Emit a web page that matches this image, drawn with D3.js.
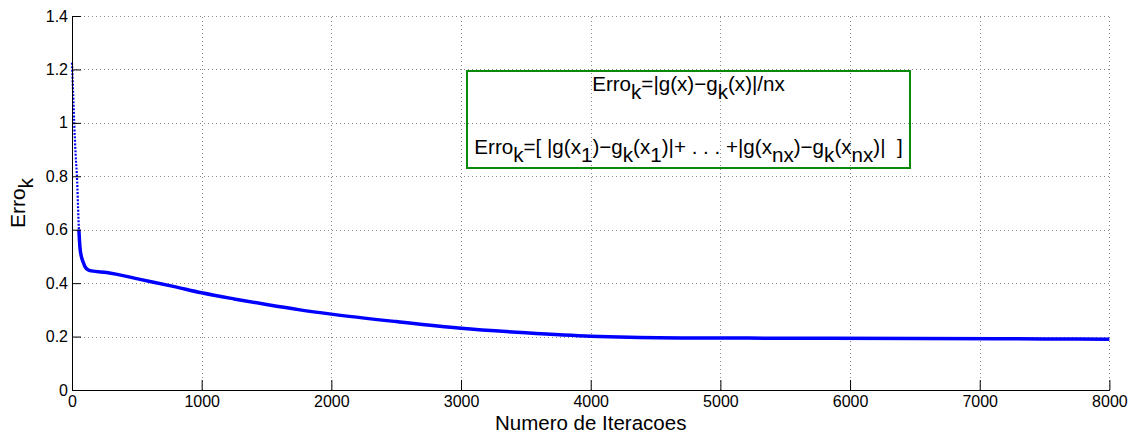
<!DOCTYPE html>
<html>
<head>
<meta charset="utf-8">
<script src="https://cdn.jsdelivr.net/npm/d3@7"></script>
<style>
  html, body { margin: 0; padding: 0; background: #fff; }
  svg { display: block; }
  text { font-family: "Liberation Sans", Arial, Helvetica, sans-serif; }
</style>
</head>
<body>
<svg id="chart" width="1135" height="434"></svg>
<script>
// ---- data ----
const iterations = [0, 8, 17, 28, 40, 47, 53, 62, 72, 85, 100, 126, 150, 267, 524, 781, 1000, 1250, 1500, 1758, 2000, 2500, 3000, 3500, 4000, 4300, 4700, 5500, 6500, 7500, 8000];
const erro       = [1.225, 1.12, 1.0, 0.88, 0.78, 0.68, 0.6, 0.53, 0.5, 0.48, 0.462, 0.449, 0.446, 0.440, 0.414, 0.388, 0.364, 0.341, 0.320, 0.300, 0.284, 0.256, 0.231, 0.214, 0.201, 0.197, 0.195, 0.194, 0.193, 0.191, 0.19];
const steepEnd = 53; // iterations where the sparse (dotted) part ends

const xTicks = [0, 1000, 2000, 3000, 4000, 5000, 6000, 7000, 8000];
const xTickLabels = ["0", "1000", "2000", "3000", "4000", "5000", "6000", "7000", "8000"];
const yTicks = [0, 0.2, 0.4, 0.6, 0.8, 1.0, 1.2, 1.4];
const yTickLabels = ["0", "0.2", "0.4", "0.6", "0.8", "1", "1.2", "1.4"];

const xLabel = "Numero de Iteracoes";
const yLabel = [["Erro", false], ["k", true]];
const formula1 = [["Erro", false], ["k", true], ["=|g(x)\u2212g", false], ["k", true], ["(x)|/nx", false]];
const formula2 = [["Erro", false], ["k", true], ["=[ |g(x", false], ["1", true], [")\u2212g", false], ["k", true], ["(x", false], ["1", true],
                  [")|+ . . . +|g(x", false], ["nx", true], [")\u2212g", false], ["k", true], ["(x", false], ["nx", true], [")|  ]", false]];

// ---- layout ----
const W = 1135, H = 434;
const margin = { left: 72, right: 25.6, top: 16, bottom: 44 };
const svg = d3.select("#chart");
svg.append("rect").attr("width", W).attr("height", H).attr("fill", "#fff");

const x = d3.scaleLinear().domain([0, 8000]).range([margin.left, W - margin.right]);
const y = d3.scaleLinear().domain([0, 1.4]).range([H - margin.bottom, margin.top]);

// grid
const grid = svg.append("g").attr("stroke", "#8a8a8a").attr("stroke-width", 1).attr("stroke-dasharray", "1,3");
grid.selectAll("line.v").data(xTicks).join("line")
  .attr("x1", d => Math.round(x(d)) + 0.5).attr("x2", d => Math.round(x(d)) + 0.5)
  .attr("y1", y(0)).attr("y2", y(1.4));
grid.selectAll("line.h").data(yTicks).join("line")
  .attr("y1", d => Math.round(y(d)) + 0.5).attr("y2", d => Math.round(y(d)) + 0.5)
  .attr("x1", x(0)).attr("x2", x(8000));

// formula box
const boxG = svg.append("g");
boxG.append("rect").attr("x", 467).attr("y", 71).attr("width", 443).attr("height", 97)
  .attr("fill", "none").attr("stroke", "#0a8a0a").attr("stroke-width", 2);

function richText(g, segs, attrs) {
  const t = g.append("text").style("white-space", "pre");
  Object.entries(attrs).forEach(([k, v]) => t.attr(k, v));
  let prevSub = false;
  segs.forEach(([s, sub]) => {
    const dy = sub === prevSub ? 0 : (sub ? 8 : -8);
    t.append("tspan").attr("dy", dy).text(s);
    prevSub = sub;
  });
  return t;
}
richText(boxG, formula1, { x: 688.5, y: 91, "text-anchor": "middle", "font-size": 20.6, fill: "#000" });
richText(boxG, formula2, { x: 688.5, y: 154, "text-anchor": "middle", "font-size": 20.6, fill: "#000" });

// curve
const pts = iterations.map((it, i) => [it, erro[i]]);
const line = d3.line().curve(d3.curveMonotoneX).x(d => x(d[0])).y(d => y(d[1]));
svg.append("path").datum(pts.filter(d => d[0] <= steepEnd))
  .attr("d", line).attr("fill", "none").attr("stroke", "#0000ff")
  .attr("stroke-width", 2.2).attr("stroke-dasharray", "2,1.5");
svg.append("path").datum(pts.filter(d => d[0] >= steepEnd))
  .attr("d", line).attr("fill", "none").attr("stroke", "#0000ff")
  .attr("stroke-width", 3.5).attr("stroke-linejoin", "round");

// axes
const xAxis = d3.axisBottom(x).tickValues(xTicks).tickFormat((d, i) => xTickLabels[i])
  .tickSizeInner(-10).tickSizeOuter(0).tickPadding(6);
const yAxis = d3.axisLeft(y).tickValues(yTicks).tickFormat((d, i) => yTickLabels[i])
  .tickSizeInner(-9).tickSizeOuter(0).tickPadding(4);

const gx = svg.append("g").attr("transform", `translate(0,${y(0)})`).call(xAxis);
const gy = svg.append("g").attr("transform", `translate(${x(0)},0)`).call(yAxis);
[gx, gy].forEach(g => {
  g.attr("font-family", null).attr("font-size", null);
  g.selectAll("text").attr("font-size", 16).attr("fill", "#000")
    .attr("font-family", "'Liberation Sans', Arial, Helvetica, sans-serif");
  g.selectAll("line").attr("stroke", "#000");
  g.select(".domain").attr("stroke", "#000");
});

// axis labels
svg.append("text").attr("x", (x(0) + x(8000)) / 2).attr("y", 429.5)
  .attr("text-anchor", "middle").attr("font-size", 20.5).attr("fill", "#000").text(xLabel);
const yl = svg.append("g").attr("transform", `translate(25,${(y(0) + y(1.4)) / 2}) rotate(-90)`);
richText(yl, yLabel, { x: 0, y: 0, "text-anchor": "middle", "font-size": 21, fill: "#000" });
</script>
</body>
</html>
